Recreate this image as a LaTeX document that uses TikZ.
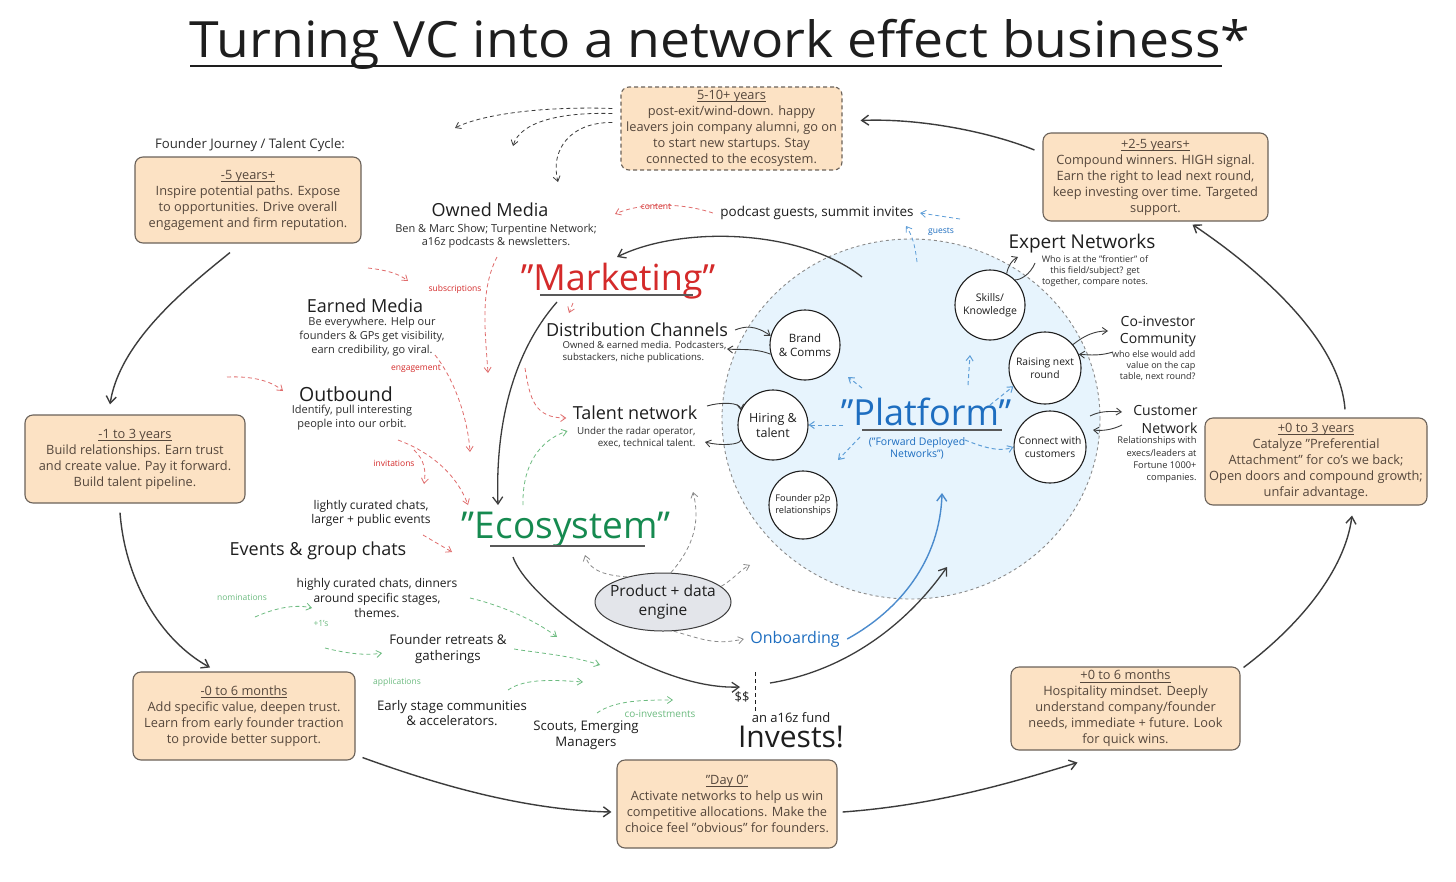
\documentclass[tikz,border=0pt]{standalone}
\usepackage{fontspec}
\setmainfont{Open Sans}
\usetikzlibrary{arrows.meta,shapes.geometric}
\definecolor{peach}{HTML}{FCE2C4}
\definecolor{boxline}{HTML}{6B625A}
\definecolor{boxtext}{HTML}{55473C}
\definecolor{mred}{HTML}{D42A2A}
\definecolor{egreen}{HTML}{168A50}
\definecolor{pblue}{HTML}{1E6EC0}
\definecolor{plight}{HTML}{E7F4FD}
\definecolor{darkline}{HTML}{3C3C3C}
\definecolor{lred}{HTML}{E06C6C}
\definecolor{lgreen}{HTML}{6DBB80}
\definecolor{lblue}{HTML}{5E9ED8}
\definecolor{lgray}{HTML}{8A8A8A}
\definecolor{ellfill}{HTML}{E3E5EA}
\definecolor{ink}{HTML}{1E1E1E}
\definecolor{subink}{HTML}{2E2E2E}
\newcommand\myfs[2]{\fontsize{#1}{#2}\selectfont}
\newcommand\hdl[1]{\setbox0=\hbox{#1}\rlap{\vrule height -1.8pt depth 2.6pt width \wd0}\box0}
\tikzset{
  cbox/.style={draw=boxline, fill=peach, rounded corners=8pt, line width=1.1pt, text=boxtext, align=center, font=\myfs{12.8}{16}, inner sep=2pt},
  cyc/.style={draw=darkline, line width=1.4pt, -{Straight Barb[length=7pt,width=10pt]}},
  thinarr/.style={draw=darkline, line width=0.9pt, -{Straight Barb[length=5pt,width=7pt]}},
  rd/.style={draw=lred, dash pattern=on 4pt off 3pt, line width=0.8pt, -{Straight Barb[length=5pt,width=7pt]}},
  gd/.style={draw=lgreen, dash pattern=on 4pt off 3pt, line width=0.8pt, -{Straight Barb[length=5pt,width=7pt]}},
  bd/.style={draw=lblue, dash pattern=on 4pt off 3pt, line width=1pt, -{Straight Barb[length=5pt,width=7pt]}},
  kd/.style={draw=lgray, dash pattern=on 4pt off 3pt, line width=0.8pt, -{Straight Barb[length=5pt,width=7pt]}},
  hd/.style={text=ink, font=\myfs{18}{21}},
  sd/.style={text=subink, align=center, font=\myfs{11}{13}},
  lbl/.style={font=\myfs{8.5}{10}},
  pcirc/.style={circle, draw=ink, line width=1.1pt, fill=white, minimum size=70pt, inner sep=0pt, align=center, text=ink, font=\myfs{11}{13}},
  uline/.style={draw=darkline!85, line width=2pt},
}
\begin{document}
\begin{tikzpicture}[x=1pt,y=-1pt]
\useasboundingbox[fill=white] (0,0) rectangle (1456,881);

% title
\node[text=ink, font=\myfs{50}{56}, anchor=base] (title) at (720,57) {\scalebox{1.07}[1]{Turning VC into a network effect business*}};
\coordinate (tu1) at (190,66); \coordinate (tu2) at (1222,66);
\draw[draw=ink, line width=1.6pt] (tu1) -- (tu2);

% platform zone
\node[ellipse, draw=lgray, dash pattern=on 3pt off 3pt, line width=0.9pt, fill=plight, minimum width=378pt, minimum height=360pt] (plat) at (911,419) {};

% boxes
\node[cbox, dash pattern=on 4pt off 3pt, minimum width=221pt, minimum height=83pt] (b5) at (731.5,128.5) {\hdl{5-10+ years}\\post-exit/wind-down. happy\\leavers join company alumni, go on\\to start new startups. Stay\\connected to the ecosystem.};
\node[text=subink, font=\myfs{13.2}{15}] (fj) at (250,145) {Founder Journey / Talent Cycle:};
\node[cbox, minimum width=226pt, minimum height=86pt] (bm5) at (248,200) {\hdl{-5 years+}\\Inspire potential paths. Expose\\to opportunities. Drive overall\\engagement and firm reputation.};
\node[cbox, minimum width=220pt, minimum height=88pt] (bm1) at (135,459) {\hdl{-1 to 3 years}\\Build relationships. Earn trust\\and create value. Pay it forward.\\Build talent pipeline.};
\node[cbox, minimum width=222pt, minimum height=88pt] (bm0) at (244,716) {\hdl{-0 to 6 months}\\Add specific value, deepen trust.\\Learn from early founder traction\\to provide better support.};
\node[cbox, minimum width=220pt, minimum height=88pt] (bd0) at (727,804) {\hdl{"Day 0"}\\Activate networks to help us win\\competitive allocations. Make the\\choice feel "obvious" for founders.};
\node[cbox, minimum width=229pt, minimum height=83pt] (bp0) at (1125.5,708.5) {\hdl{+0 to 6 months}\\Hospitality mindset. Deeply\\understand company/founder\\needs, immediate + future. Look\\for quick wins.};
\node[cbox, minimum width=222pt, minimum height=87pt] (bp3) at (1316,461.5) {\hdl{+0 to 3 years}\\Catalyze "Preferential\\Attachment" for co's we back;\\Open doors and compound growth;\\unfair advantage.};
\node[cbox, minimum width=225pt, minimum height=88pt] (bp2) at (1155.5,177) {\hdl{+2-5 years+}\\Compound winners. HIGH signal.\\Earn the right to lead next round,\\keep investing over time. Targeted\\support.};

% cycle arrows
\draw[cyc] ([shift={(-18,9)}]bm5.south) .. controls (190,285) and (120,340) .. ([shift={(-25,-10)}]bm1.north);
\draw[cyc] ([shift={(-15,9)}]bm1.south) .. controls (125,580) and (160,640) .. ([shift={(-34,-4)}]bm0.north);
\draw[cyc] ([shift={(7,-3)}]bm0.south east) .. controls (430,782) and (520,810) .. ([shift={(-5,8)}]bd0.west);
\draw[cyc] ([shift={(5,8)}]bd0.east) .. controls (940,805) and (1020,780) .. ([shift={(-48,12)}]bp0.south);
\draw[cyc] ([shift={(3,1)}]bp0.north east) .. controls (1300,625) and (1345,570) .. ([shift={(36,10)}]bp3.south);
\draw[cyc] ([shift={(29,-8)}]bp3.north) .. controls (1340,340) and (1260,270) .. ([shift={(37,3)}]bp2.south);
\draw[cyc] ([shift={(-8,-27)}]bp2.west) .. controls (990,132) and (920,118) .. ([shift={(18,-8)}]b5.east);

% dashed from 5-10 box
\coordinate (d1) at (455,128); \coordinate (d2) at (513,146); \coordinate (d3) at (558,182);
\draw[kd, draw=darkline] ([shift={(-8,-20)}]b5.west) .. controls (540,106) and (480,115) .. (d1);
\draw[kd, draw=darkline] ([shift={(-8,-15)}]b5.west) .. controls (560,112) and (520,122) .. (d2);
\draw[kd, draw=darkline] ([shift={(-8,-6)}]b5.west) .. controls (570,122) and (550,150) .. (d3);

% owned media
\node[hd] (om) at (490,210) {Owned Media};
\node[sd] (omsub) at (496,236) {Ben \& Marc Show; Turpentine Network;\\a16z podcasts \& newsletters.};
\node[lbl, text=mred] (lcontent) at (656,207) {content};
\node[text=ink, font=\myfs{13.5}{15}] (pod) at (817,213) {podcast guests, summit invites};
\coordinate (c1) at (615,214);
\draw[rd] ([xshift=-4pt]pod.west) .. controls (680,202) and (640,203) .. (c1);
\node[lbl, text=pblue] (lguests) at (941,232) {guests};
\coordinate (g1a) at (960,219); \coordinate (g2a) at (917,262); \coordinate (g2b) at (906,226);
\draw[bd, line width=0.8pt] (g1a) -- ([xshift=3pt]pod.east);
\draw[bd, line width=0.8pt] (g2a) .. controls (915,245) and (912,235) .. (g2b);

% Marketing
\node[text=mred, font=\myfs{36}{40}] (mk) at (618,281) {"Marketing"};
\coordinate (mu1) at (540,295); \coordinate (mu2) at (693,295);
\draw[uline] (mu1) -- (mu2);
\coordinate (pm) at (862,277); \coordinate (mkt) at (617,257); \coordinate (mkb) at (557,302); \coordinate (ecot) at (498,505);
\draw[cyc, line width=1.3pt] (pm) .. controls (800,228) and (680,226) .. (mkt);
\draw[cyc, line width=1.3pt] (mkb) .. controls (515,350) and (495,420) .. (ecot);

% distribution / talent
\node[hd] (dc) at (637,330) {Distribution Channels};
\node[sd, font=\myfs{9.6}{12}, align=left, anchor=west] (dcsub) at (559,352) {Owned \& earned media. Podcasters,\\substackers, niche publications.};
\node[hd] (tn) at (635,413) {Talent network};
\node[sd, font=\myfs{9.8}{12}, align=right, anchor=east] (tnsub) at (699,437) {Under the radar operator,\\exec, technical talent.};

% earned / outbound
\node[hd] (em) at (365,306) {Earned Media};
\node[sd, font=\myfs{11}{14}] (emsub) at (372,337) {Be everywhere. Help our\\founders \& GPs get visibility,\\earn credibility, go viral.};
\node[hd, font=\myfs{19.5}{22}] (ob) at (346,394) {Outbound};
\node[sd, font=\myfs{11}{14}] (obsub) at (352,418) {Identify, pull interesting\\people into our orbit.};
\node[lbl, text=mred] (lsub) at (455,289) {subscriptions};
\node[lbl, text=mred] (leng) at (416,369) {engagement};
\node[lbl, text=mred] (linv) at (394,463) {invitations};

% red dashed
\coordinate (r1a) at (368,268); \coordinate (r1b) at (408,281);
\draw[rd] (r1a) .. controls (385,270) and (398,273) .. (r1b);
\coordinate (r2a) at (497,257); \coordinate (r2b) at (488,373);
\draw[rd] (r2a) .. controls (480,290) and (485,330) .. (r2b);
\coordinate (r3a) at (435,355); \coordinate (r3b) at (470,452);
\draw[rd] (r3a) .. controls (455,380) and (468,420) .. (r3b);
\coordinate (r4a) at (227,377); \coordinate (r4b) at (283,391);
\draw[rd] (r4a) .. controls (250,376) and (270,380) .. (r4b);
\coordinate (r5a) at (398,440); \coordinate (r5b) at (468,505);
\draw[rd] (r5a) .. controls (425,450) and (455,470) .. (r5b);
\coordinate (r6a) at (414,450); \coordinate (r6b) at (424,484);
\draw[rd] (r6a) .. controls (425,460) and (426,472) .. (r6b);
\coordinate (r7a) at (423,535); \coordinate (r7b) at (452,552);
\draw[rd] (r7a) -- (r7b);
\coordinate (r8a) at (573,303); \coordinate (r8b) at (569,313);
\draw[rd] (r8a) -- (r8b);
\coordinate (r9a) at (525,368);
\draw[rd] (r9a) .. controls (530,400) and (535,418) .. ([shift={(-3,5)}]tn.west);
\coordinate (gta) at (523,505);
\draw[gd] (gta) .. controls (522,465) and (540,440) .. ([shift={(-6,-6)}]tnsub.west);

% Ecosystem
\node[text=egreen, font=\myfs{37}{40}] (eco) at (566,530) {"Ecosystem"};
\coordinate (eu1) at (490,546); \coordinate (eu2) at (645,546);
\draw[uline] (eu1) -- (eu2);

% events
\node[hd] (ev) at (318,551) {Events \& group chats};
\node[sd, text=ink, font=\myfs{12}{14}] (lc) at (371,513) {lightly curated chats,\\larger + public events};
\node[sd, text=ink, font=\myfs{12}{15}] (hc) at (377,598) {highly curated chats, dinners\\around specific stages,\\themes.};
\node[sd, text=ink, font=\myfs{13.3}{16}] (fr) at (448,649) {Founder retreats \&\\gatherings};
\node[sd, text=ink, font=\myfs{13.2}{15}] (es) at (452,713) {Early stage communities\\\& accelerators.};
\node[sd, text=ink, font=\myfs{13.2}{16}] (sc) at (586,735) {Scouts, Emerging\\Managers};
\node[lbl, text=lgreen] (lnom) at (242,597) {nominations};
\node[lbl, text=lgreen] (lp1) at (321,623) {+1's};
\node[lbl, text=lgreen] (lapp) at (397,682) {applications};
\node[lbl, text=lgreen, font=\myfs{10}{11}] (lco) at (660,714) {co-investments};

% green dashed
\coordinate (ga1) at (255,617); \coordinate (gb1) at (312,608);
\draw[gd] (ga1) .. controls (275,608) and (295,604) .. (gb1);
\coordinate (ga2) at (325,648); \coordinate (gb2) at (382,653);
\draw[gd] (ga2) .. controls (345,653) and (365,656) .. (gb2);
\coordinate (ga3) at (470,598); \coordinate (gb3) at (557,637);
\draw[gd] (ga3) .. controls (500,605) and (535,620) .. (gb3);
\coordinate (gb4) at (600,665);
\draw[gd] ([xshift=4pt]fr.east) .. controls (530,652) and (570,655) .. (gb4);
\coordinate (ga5) at (508,690); \coordinate (gb5) at (583,682);
\draw[gd] (ga5) .. controls (525,678) and (555,680) .. (gb5);
\coordinate (ga6) at (597,713); \coordinate (gb6) at (673,700);
\draw[gd] (ga6) .. controls (615,700) and (645,700) .. (gb6);

% product + data engine
\node[ellipse, draw=darkline, line width=1pt, fill=ellfill, minimum width=136pt, minimum height=58pt] (pde) at (663,602) {};
\node[align=center, text=ink, font=\myfs{15.5}{19}] (pdetxt) at (663,602) {Product + data\\engine};
\node[text=pblue, font=\myfs{16}{18}] (onb) at (795,639) {Onboarding};
\coordinate (k1) at (585,555); \coordinate (k2) at (693,492); \coordinate (k3) at (750,565);
\draw[kd] (pde.145) .. controls (595,575) and (588,565) .. (k1);
\draw[kd] (pde.75) .. controls (695,545) and (700,520) .. (k2);
\draw[kd] (pde.15) .. controls (735,578) and (740,570) .. (k3);
\draw[kd] (pde.-70) .. controls (705,640) and (715,645) .. ([xshift=-3pt]onb.west);

% invests
\node[text=ink, font=\myfs{13}{15}] (dol) at (742,697) {\$\$};
\coordinate (vl1) at (755,672); \coordinate (vl2) at (755,712);
\draw[draw=ink, line width=1pt, dash pattern=on 4pt off 3pt] (vl1) -- (vl2);
\node[text=ink, font=\myfs{13}{15}] (fund) at (791,718) {an a16z fund};
\node[text=ink, font=\myfs{30}{32}] (inv) at (791,737) {Invests!};
\coordinate (ecob) at (513,557); \coordinate (invd) at (740,687); \coordinate (invs) at (770,683);
\draw[cyc, line width=1.3pt] (ecob) .. controls (528,600) and (650,690) .. (invd);
\coordinate (ip) at (947,567);
\draw[cyc, line width=1.3pt] (invs) .. controls (850,670) and (910,620) .. (ip);
\coordinate (obp) at (942,493);
\draw[draw=pblue!80, line width=1.4pt, -{Straight Barb[length=7pt,width=10pt]}] ([xshift=4pt]onb.east) .. controls (900,610) and (940,560) .. (obp);

% platform contents
\node[text=pblue, font=\myfs{36}{40}] (pl) at (926,412) {"Platform"};
\coordinate (pu1) at (862,430); \coordinate (pu2) at (1002,430);
\draw[uline] (pu1) -- (pu2);
\node[text=pblue, align=center, font=\myfs{10.5}{12}] (pls) at (917,448) {("Forward Deployed\\Networks")};

\node[pcirc, font=\myfs{11.5}{14}] (brand) at (805,345) {Brand\\\& Comms};
\node[pcirc, font=\myfs{12.5}{15}] (hire) at (773,425) {Hiring \&\\talent};
\node[pcirc, font=\myfs{9.2}{12}, minimum size=68pt] (p2p) at (803,505) {Founder p2p\\relationships};
\node[pcirc, font=\myfs{10.5}{13}] (skills) at (990,305) {Skills/\\Knowledge};
\node[pcirc, font=\myfs{10.3}{13}, minimum size=72pt] (raise) at (1045,368) {Raising next\\round};
\node[pcirc, font=\myfs{10.3}{13}, minimum size=72pt] (cust) at (1050,447) {Connect with\\customers};

% blue dashed from platform
\coordinate (bp1) at (848,377); \coordinate (bp1s) at (862,388);
\coordinate (bp2) at (970,355); \coordinate (bp2s) at (968,385);
\coordinate (bp3s) at (990,405); \coordinate (bp4s) at (860,437); \coordinate (bp4) at (838,460);
\coordinate (bp5s) at (965,440); \coordinate (pll) at (843,425);
\draw[bd] (pll) -- (hire.east);
\draw[bd] (bp1s) -- (bp1);
\draw[bd] (bp2s) -- (bp2);
\draw[bd] (bp3s) -- (raise.-150);
\draw[bd] (bp4s) -- (bp4);
\draw[bd] (bp5s) .. controls (985,448) and (1000,452) .. (cust.west);

% side labels
\node[hd, font=\myfs{19}{22}] (exp) at (1082,244) {Expert Networks};
\node[sd, font=\myfs{9}{11}] (expsub) at (1095,271) {Who is at the "frontier" of\\this field/subject? get\\together, compare notes.};
\node[hd, font=\myfs{14}{17}, align=center] (coinv) at (1158,332) {Co-investor\\Community};
\node[sd, font=\myfs{9}{11}, align=right, anchor=east] (coisub) at (1199,366) {who else would add\\value on the cap\\table, next round?};
\node[hd, font=\myfs{14}{18}, align=right, anchor=east] (custnet) at (1201,419) {Customer\\Network};
\node[sd, font=\myfs{9.3}{12.3}, align=right, anchor=east] (custsub) at (1200,460) {Relationships with\\execs/leaders at\\Fortune 1000+\\companies.};

% thin connectors
\coordinate (dcb) at (727,349); \coordinate (dce) at (735,330);
\draw[thinarr] (dce) .. controls (745,326) and (755,325) .. (brand.165);
\draw[thinarr] (brand.195) .. controls (755,348) and (740,350) .. (dcb);
\coordinate (tnb) at (705,442); \coordinate (tne) at (707,406);
\draw[thinarr] (tne) .. controls (720,402) and (740,402) .. (hire.155);
\draw[thinarr] (hire.205) .. controls (740,445) and (720,446) .. (tnb);
\coordinate (ex1) at (1018,257); \coordinate (ex2) at (1035,263);
\draw[thinarr] (skills.62) .. controls (1008,266) and (1012,260) .. (ex1);
\draw[draw=darkline, line width=0.9pt] (ex2) .. controls (1030,275) and (1020,280) .. (skills.45);
\coordinate (co1) at (1108,331); \coordinate (co2) at (1113,352);
\draw[thinarr] (raise.40) .. controls (1085,335) and (1095,331) .. (co1);
\draw[thinarr] (co2) .. controls (1100,356) and (1090,355) .. (raise.22);
\coordinate (cu1) at (1090,416); \coordinate (cu2) at (1122,412); \coordinate (cu3) at (1122,425); \coordinate (cu4) at (1093,430);
\draw[thinarr] (cu1) .. controls (1100,411) and (1110,411) .. (cu2);
\draw[thinarr] (cu3) .. controls (1112,430) and (1102,431) .. (cu4);
\end{tikzpicture}
\end{document}
